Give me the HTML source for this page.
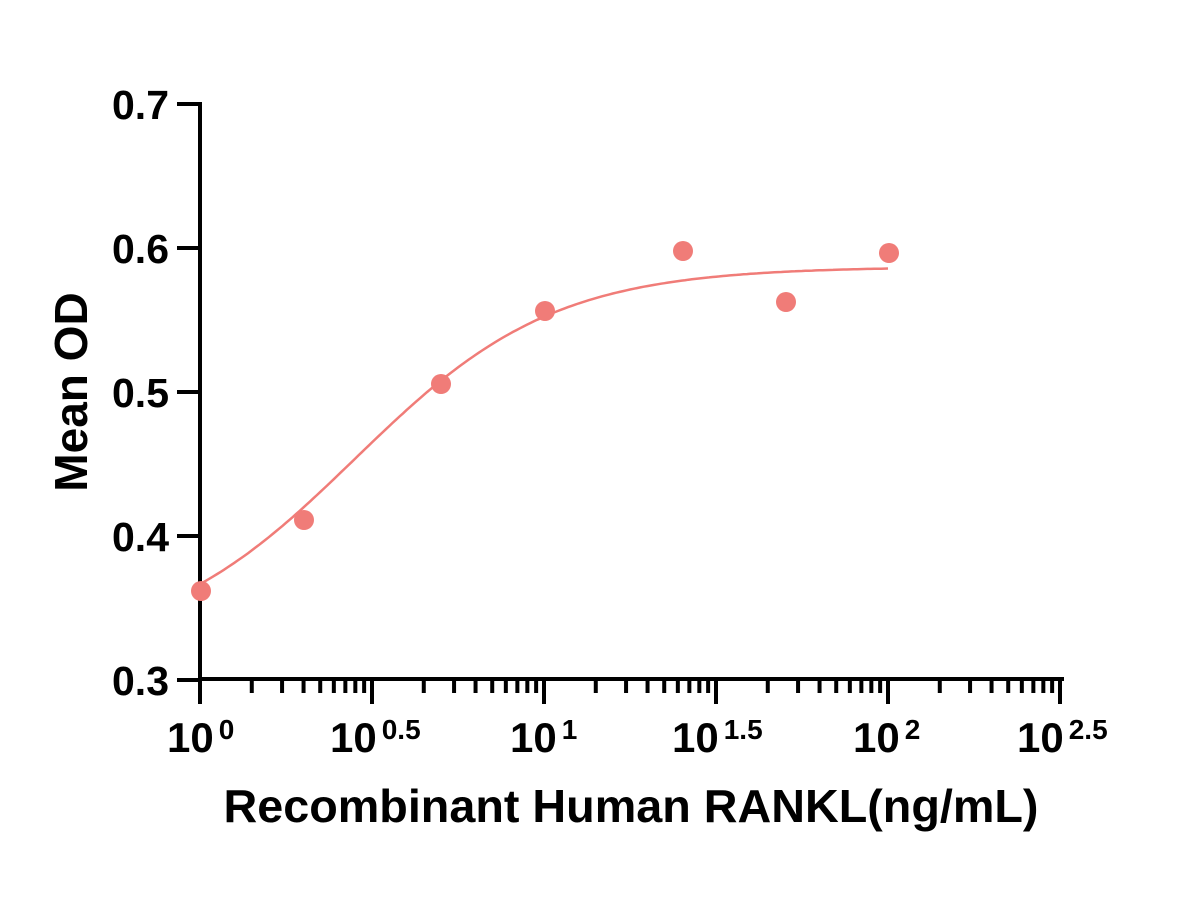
<!DOCTYPE html>
<html><head><style>body{margin:0;background:#fff}svg{display:block}</style></head>
<body>
<svg id="s" width="1200" height="900" xmlns="http://www.w3.org/2000/svg" font-family="Liberation Sans, Arial, sans-serif" font-weight="bold">
<g stroke="#000" stroke-width="4" fill="none">
<line x1="200" y1="102" x2="200" y2="704"/>
<line x1="198" y1="679" x2="1064" y2="679"/>
<line x1="177" y1="104" x2="200" y2="104"/>
<line x1="177" y1="248" x2="200" y2="248"/>
<line x1="177" y1="392" x2="200" y2="392"/>
<line x1="177" y1="536" x2="200" y2="536"/>
<line x1="177" y1="680" x2="200" y2="680"/>
</g>
<g id="xt" stroke="#000" fill="none"></g>
<g font-size="41" text-anchor="end">
<text x="169" y="119">0.7</text>
<text x="169" y="263">0.6</text>
<text x="169" y="407">0.5</text>
<text x="169" y="551">0.4</text>
<text x="169" y="695">0.3</text>
</g>
<g font-size="42">
<text x="167" y="752">10<tspan font-size="28" dy="-13" dx="5">0</tspan></text>
<text x="330" y="752">10<tspan font-size="28" dy="-13" dx="5">0.5</tspan></text>
<text x="510" y="752">10<tspan font-size="28" dy="-13" dx="5">1</tspan></text>
<text x="672" y="752">10<tspan font-size="28" dy="-13" dx="5">1.5</tspan></text>
<text x="853" y="752">10<tspan font-size="28" dy="-13" dx="5">2</tspan></text>
<text x="1017" y="752">10<tspan font-size="28" dy="-13" dx="5">2.5</tspan></text>
</g>
<text x="631" y="822" font-size="46" text-anchor="middle" textLength="815" lengthAdjust="spacingAndGlyphs">Recombinant Human RANKL(ng/mL)</text>
<text transform="translate(87,392) rotate(-90)" font-size="46" text-anchor="middle">Mean OD</text>
<path id="c" fill="none" stroke="#f07c78" stroke-width="2.5"/>
<g fill="#f07c78">
<circle cx="201" cy="591" r="10"/>
<circle cx="304" cy="520" r="10"/>
<circle cx="441" cy="384" r="10"/>
<circle cx="545" cy="311" r="10"/>
<circle cx="683" cy="251" r="10"/>
<circle cx="786" cy="302" r="10"/>
<circle cx="889" cy="253" r="10"/>
</g>
</svg>
<script>
var g=document.getElementById('xt'),h='';
var X=function(l){return 200+l*344;};
for(var d=0;d<5;d++){var b=X(d*0.5);
h+='<line x1="'+b+'" y1="679" x2="'+b+'" y2="704" stroke-width="4"/>';
for(var k=2;k<=9;k++){var x=b+Math.log10(k)*172;h+='<line x1="'+x+'" y1="679" x2="'+x+'" y2="693" stroke-width="4"/>';}}
var e=X(2.5);h+='<line x1="'+e+'" y1="679" x2="'+e+'" y2="704" stroke-width="4"/>';
g.innerHTML=h;
var p='';for(var i=0;i<=200;i++){var l=i/100;var y=0.32+0.267/(1+Math.pow(10,(0.45-l)*1.5));
p+=(i?'L':'M')+X(l).toFixed(1)+' '+(680-(y-0.3)*1440).toFixed(1);}
document.getElementById('c').setAttribute('d',p);
</script>
</body></html>
